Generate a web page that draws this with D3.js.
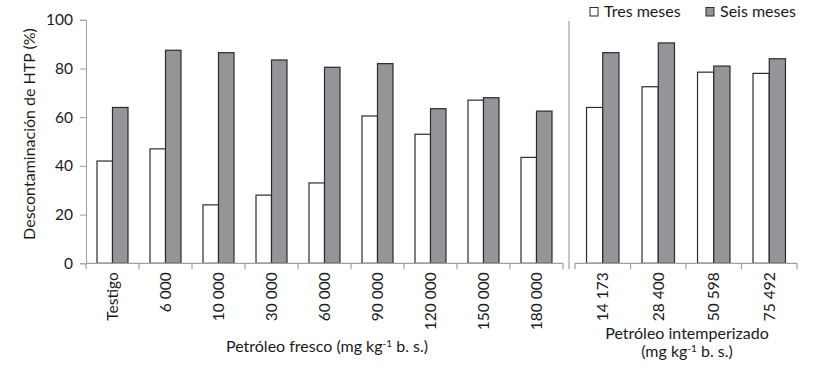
<!DOCTYPE html>
<html>
<head>
<meta charset="utf-8">
<script src="https://cdn.jsdelivr.net/npm/d3@7"></script>
<style>
  body { margin: 0; background: #fff; }
  svg text { font-family: "Lato", "Open Sans", sans-serif; fill: #1a1a1a; }
</style>
</head>
<body>
<svg id="chart" width="825" height="371"></svg>
<script>
// ---- data ----
const freshCategories = ["Testigo", "6 000", "10 000", "30 000", "60 000", "90 000", "120 000", "150 000", "180 000"];
const freshTres = [42, 47, 24, 28, 33, 60.5, 53, 67, 43.5];
const freshSeis = [64, 87.5, 86.5, 83.5, 80.5, 82, 63.5, 68, 62.5];

const weatheredCategories = ["14 173", "28 400", "50 598", "75 492"];
const weatheredTres = [64, 72.5, 78.5, 78];
const weatheredSeis = [86.5, 90.5, 81, 84];

const seriesNames = ["Tres meses", "Seis meses"];
const yTicks = [0, 20, 40, 60, 80, 100];

// ---- drawing ----
const svg = d3.select("#chart");
const axisColor = "#a0a0a0";
const barStroke = "#2b2b2b";
const colors = { "Tres meses": "#ffffff", "Seis meses": "#939598" };
const tickFont = 15.5;
const titleFont = 16;

const y = d3.scaleLinear().domain([0, 100]).range([263.3, 19.8]);

const panels = [
  { cats: freshCategories, tres: freshTres, seis: freshSeis, range: [86, 563] },
  { cats: weatheredCategories, tres: weatheredTres, seis: weatheredSeis, range: [575, 797] }
];

// y axis
const yAxis = svg.append("g").attr("transform", "translate(86,0)")
  .call(d3.axisLeft(y).tickValues(yTicks).tickSize(6).tickPadding(7));
yAxis.select(".domain").attr("stroke", axisColor);
yAxis.selectAll(".tick line").attr("stroke", axisColor);
yAxis.selectAll(".tick text").attr("font-family", "Lato, 'Open Sans', sans-serif")
  .attr("font-size", tickFont).attr("fill", "#1a1a1a");

svg.append("text")
  .attr("transform", "translate(35,134) rotate(-90)")
  .attr("text-anchor", "middle")
  .attr("font-size", titleFont)
  .text("Descontaminación de HTP (%)");

panels.forEach(p => {
  const x0 = d3.scaleBand().domain(p.cats).range(p.range).padding(0);
  const x1 = d3.scaleBand().domain(seriesNames).range([0, x0.bandwidth()]).paddingInner(0).paddingOuter(0.71);
  const rows = p.cats.map((c, i) => ({ cat: c, vals: [
    { s: "Tres meses", v: p.tres[i] }, { s: "Seis meses", v: p.seis[i] } ] }));

  const groups = svg.append("g").selectAll("g").data(rows).join("g")
    .attr("transform", d => `translate(${x0(d.cat)},0)`);
  groups.selectAll("rect").data(d => d.vals).join("rect")
    .attr("x", d => x1(d.s))
    .attr("y", d => y(d.v))
    .attr("width", x1.bandwidth())
    .attr("height", d => y(0) - y(d.v))
    .attr("fill", d => colors[d.s])
    .attr("stroke", barStroke)
    .attr("stroke-width", 1.2);

  // x axis line with boundary ticks
  const g = svg.append("g").attr("transform", `translate(0,${y(0)})`);
  g.append("line").attr("x1", p.range[0]).attr("x2", p.range[1])
    .attr("stroke", axisColor).attr("stroke-width", 1.2);
  const bounds = p.cats.map(c => x0(c)).concat([p.range[1]]);
  g.selectAll("line.b").data(bounds).join("line").attr("class", "b")
    .attr("x1", d => d).attr("x2", d => d).attr("y1", 0).attr("y2", 6)
    .attr("stroke", axisColor).attr("stroke-width", 1.2);

  // labels
  const lab = svg.append("g").attr("transform", `translate(0,${y(0)})`)
    .call(d3.axisBottom(x0).tickSize(0).tickPadding(0));
  lab.select(".domain").remove();
  lab.selectAll(".tick text")
    .attr("font-family", "Lato, 'Open Sans', sans-serif")
    .attr("font-size", tickFont).attr("fill", "#1a1a1a")
    .attr("transform", "rotate(-90)")
    .attr("text-anchor", "end")
    .attr("x", -9).attr("y", 0).attr("dy", "0.35em");
});

// divider
svg.append("line").attr("x1", 569).attr("x2", 569).attr("y1", 21).attr("y2", 269)
  .attr("stroke", axisColor).attr("stroke-width", 1.2);

// axis titles
function titleWithSup(x, yPos, parts) {
  const t = svg.append("text").attr("x", x).attr("y", yPos).attr("text-anchor", "middle").attr("font-size", titleFont);
  parts.forEach(([txt, sup]) => {
    const ts = t.append("tspan").text(txt);
    if (sup) ts.attr("font-size", 10).attr("dy", -5);
    else if (sup === false) ts.attr("dy", 5);
  });
  return t;
}
titleWithSup(327, 352, [["Petróleo fresco (mg kg"], ["-1", true], [" b. s.)", false]]);
svg.append("text").attr("x", 687).attr("y", 339).attr("text-anchor", "middle").attr("font-size", titleFont)
  .text("Petróleo intemperizado");
titleWithSup(687, 357, [["(mg kg"], ["-1", true], [" b. s.)", false]]);

// legend
const legend = svg.append("g");
const legItems = [{ s: "Tres meses", x: 590 }, { s: "Seis meses", x: 706 }];
legItems.forEach(it => {
  legend.append("rect").attr("x", it.x).attr("y", 7.5).attr("width", 8).attr("height", 8.5)
    .attr("fill", colors[it.s]).attr("stroke", barStroke).attr("stroke-width", 1);
  legend.append("text").attr("x", it.x + 14).attr("y", 17).attr("font-size", titleFont).text(it.s);
});
</script>
</body>
</html>
